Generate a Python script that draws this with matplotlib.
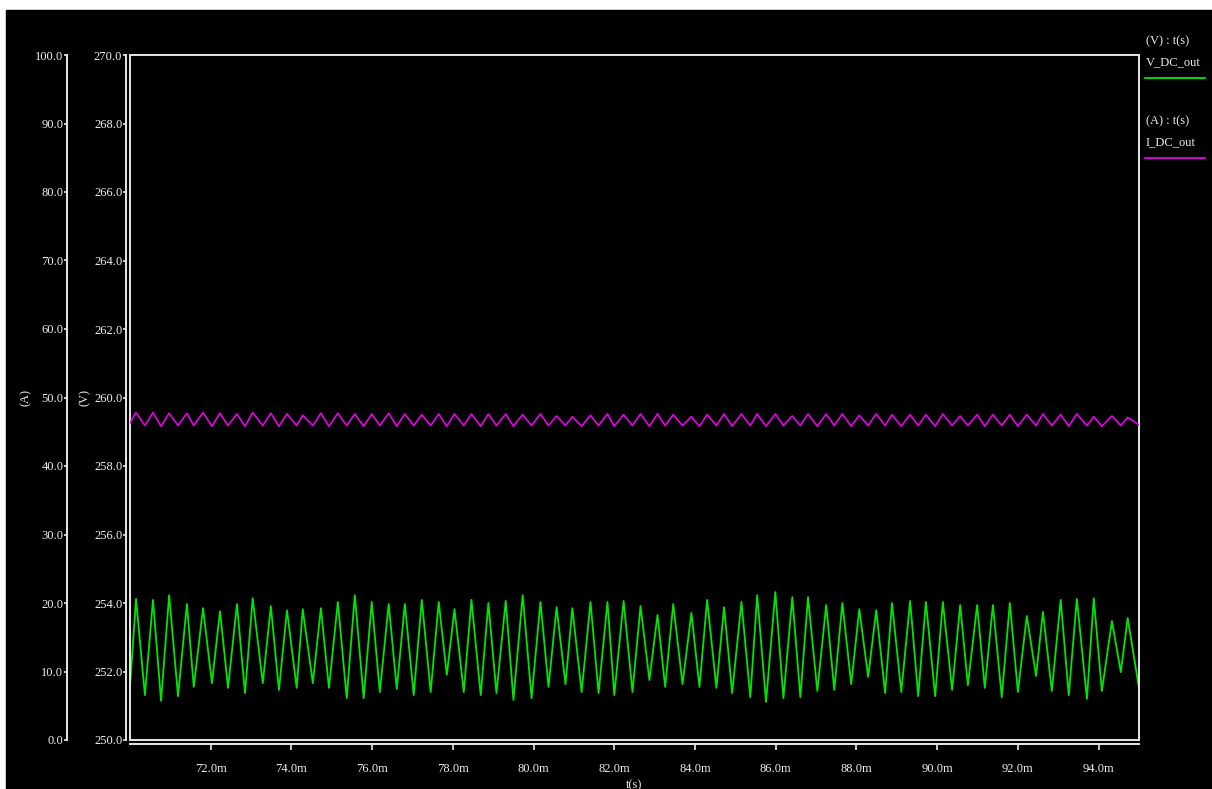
import matplotlib.pyplot as plt
from matplotlib.patches import Rectangle
from matplotlib.lines import Line2D
from matplotlib.ticker import FuncFormatter

# --- dados (tempo em ms) ---
t_ms = [
    70.00, 70.15, 70.37, 70.57, 70.77, 70.97, 71.19, 71.41, 71.58, 71.81,
    72.03, 72.23, 72.43, 72.65, 72.85, 73.04, 73.29, 73.49, 73.69, 73.89,
    74.13, 74.28, 74.53, 74.73, 74.93, 75.15, 75.37, 75.57, 75.79, 75.99,
    76.19, 76.41, 76.61, 76.81, 77.03, 77.23, 77.45, 77.65, 77.85, 78.04,
    78.27, 78.46, 78.69, 78.88, 79.08, 79.31, 79.50, 79.73, 79.95, 80.17,
    80.37, 80.57, 80.79, 80.96, 81.19, 81.41, 81.61, 81.83, 82.00, 82.23,
    82.45, 82.65, 82.87, 83.07, 83.26, 83.46, 83.69, 83.91, 84.11, 84.30,
    84.53, 84.72, 84.92, 85.15, 85.37, 85.54, 85.76, 85.99, 86.19, 86.41,
    86.61, 86.80, 87.03, 87.25, 87.45, 87.65, 87.87, 88.07, 88.29, 88.49,
    88.71, 88.88, 89.11, 89.33, 89.53, 89.72, 89.95, 90.14, 90.37, 90.57,
    90.76, 90.99, 91.18, 91.38, 91.60, 91.80, 92.00, 92.22, 92.45, 92.62,
    92.84, 93.06, 93.26, 93.46, 93.71, 93.88, 94.08, 94.33, 94.55, 94.72,
    95.00,
]

v_dc_out = [
    251.55, 254.12, 251.31, 254.09, 251.14, 254.23, 251.28, 253.97, 251.55, 253.85,
    251.66, 253.76, 251.52, 253.97, 251.37, 254.14, 251.66, 253.91, 251.46, 253.79,
    251.52, 253.82, 251.66, 253.85, 251.52, 254.03, 251.22, 254.23, 251.22, 254.03,
    251.40, 253.97, 251.49, 253.97, 251.31, 254.09, 251.40, 254.03, 251.90, 253.82,
    251.40, 254.09, 251.31, 254.00, 251.37, 254.06, 251.17, 254.23, 251.22, 254.03,
    251.55, 253.88, 251.63, 253.85, 251.40, 254.03, 251.37, 254.03, 251.31, 254.06,
    251.40, 253.91, 251.75, 253.65, 251.55, 253.97, 251.63, 253.71, 251.55, 254.09,
    251.52, 253.88, 251.37, 254.03, 251.25, 254.23, 251.11, 254.32, 251.22, 254.17,
    251.25, 254.17, 251.43, 253.94, 251.46, 254.00, 251.63, 253.82, 251.84, 253.79,
    251.37, 254.00, 251.40, 254.06, 251.28, 254.03, 251.28, 254.03, 251.46, 253.94,
    251.60, 253.94, 251.52, 253.94, 251.25, 254.00, 251.40, 253.62, 251.87, 253.74,
    251.43, 254.09, 251.31, 254.12, 251.20, 254.14, 251.43, 253.47, 251.98, 253.56,
    251.52,
]

i_dc_out = [
    46.3,
    47.8, 45.9, 47.8, 45.8, 47.7, 45.9, 47.7, 45.9, 47.8, 45.8,
    47.7, 45.9, 47.6, 45.8, 47.8, 45.9, 47.7, 45.8, 47.6, 45.9,
    47.4, 45.9, 47.7, 45.8, 47.7, 45.9, 47.6, 45.8, 47.6, 45.9,
    47.7, 45.8, 47.6, 45.9, 47.5, 45.9, 47.6, 45.8, 47.6, 45.9,
    47.6, 45.8, 47.6, 45.9, 47.6, 45.8, 47.5, 45.9, 47.6, 45.9,
    47.3, 45.9, 47.2, 45.8, 47.4, 45.9, 47.6, 45.8, 47.5, 45.9,
    47.6, 45.8, 47.6, 45.9, 47.5, 45.9, 47.2, 45.8, 47.5, 45.9,
    47.6, 45.8, 47.6, 45.9, 47.6, 45.8, 47.6, 45.9, 47.3, 45.9,
    47.6, 45.8, 47.6, 45.9, 47.6, 45.8, 47.4, 45.9, 47.6, 45.9,
    47.5, 45.8, 47.5, 45.9, 47.5, 45.8, 47.6, 45.9, 47.3, 45.9,
    47.5, 45.8, 47.5, 45.9, 47.5, 45.8, 47.5, 45.9, 47.6, 45.9,
    47.5, 45.8, 47.6, 45.9, 47.2, 45.8, 47.3, 45.9,
    47.1, 46.0,
]

x_ticks = [72, 74, 76, 78, 80, 82, 84, 86, 88, 90, 92, 94]
v_ticks = [250, 252, 254, 256, 258, 260, 262, 264, 266, 268, 270]
a_ticks = [0, 10, 20, 30, 40, 50, 60, 70, 80, 90, 100]

# --- estilo ---
W, H = 1212, 789
FONTE = 'Liberation Serif'
COR_TXT = '#eeeeee'
COR_EIXO = '#e8e8e8'
VERDE = '#00e600'
MAGENTA = '#e600e6'
plt.rcParams['font.family'] = FONTE
plt.rcParams['font.size'] = 9

fig = plt.figure(figsize=(W / 100, H / 100), dpi=100, facecolor='white')
fig.add_artist(Rectangle((6 / W, 0), 1 - 6 / W, (H - 10) / H,
                         transform=fig.transFigure, color='black', zorder=-10))

# posição da área de plotagem (pixels)
x0, x1, y0, y1 = 130, 1139, 55, 740
pos = [x0 / W, 1 - y1 / H, (x1 - x0) / W, (y1 - y0) / H]
larg_px, alt_px = x1 - x0, y1 - y0

# eixo da tensão (V)
ax = fig.add_axes(pos)
ax.set_facecolor('none')
ax.plot(t_ms, v_dc_out, color=VERDE, lw=1.3)
ax.set_xlim(70, 95)
ax.set_ylim(250, 270)
for s in ['top', 'right']:
    ax.spines[s].set_visible(False)
ax.spines['left'].set_position(('axes', -4 / larg_px))
ax.spines['bottom'].set_position(('axes', -4 / alt_px))
for s in ['left', 'bottom']:
    ax.spines[s].set_color(COR_EIXO)
    ax.spines[s].set_linewidth(1.4)
ax.add_patch(Rectangle((0, 0), 1, 1, transform=ax.transAxes, fill=False,
                       ec=COR_EIXO, lw=1.4, clip_on=False, zorder=5))

ax.set_xticks(x_ticks)
ax.xaxis.set_major_formatter(FuncFormatter(lambda v, p: f'{v:.1f}m'))
ax.tick_params(axis='x', colors=COR_EIXO, labelcolor=COR_TXT, length=4.5,
               width=1.2, pad=9, labelsize=9)
ax.set_xlabel('t(s)', color=COR_TXT, fontsize=9, labelpad=3)

ax.set_yticks(v_ticks)
ax.yaxis.set_major_formatter(FuncFormatter(lambda v, p: f'{v:.1f}'))
ax.tick_params(axis='y', colors=COR_EIXO, labelcolor=COR_TXT, length=2.2,
               width=1.2, pad=0.5, labelsize=9)
ax.set_ylabel('(V)', color=COR_TXT, fontsize=9, labelpad=2)

# eixo da corrente (A)
ax2 = fig.add_axes(pos, sharex=ax)
ax2.set_facecolor('none')
ax2.plot(t_ms, i_dc_out, color=MAGENTA, lw=1.2)
ax2.set_ylim(0, 100)
for s in ['top', 'right', 'bottom']:
    ax2.spines[s].set_visible(False)
ax2.spines['left'].set_position(('axes', -63 / larg_px))
ax2.spines['left'].set_color(COR_EIXO)
ax2.spines['left'].set_linewidth(1.4)
ax2.xaxis.set_visible(False)
ax2.set_yticks(a_ticks)
ax2.yaxis.set_major_formatter(FuncFormatter(lambda v, p: f'{v:.1f}'))
ax2.tick_params(axis='y', colors=COR_EIXO, labelcolor=COR_TXT, length=2.2,
                width=1.2, pad=0.5, labelsize=9)
ax2.set_ylabel('(A)', color=COR_TXT, fontsize=9, labelpad=2)

# legenda à direita
def legenda(y_titulo, titulo, nome, cor):
    fig.text(1146 / W, 1 - y_titulo / H, titulo, color=COR_TXT, fontsize=9,
             va='center', ha='left')
    fig.text(1146 / W, 1 - (y_titulo + 21) / H, nome, color=COR_TXT, fontsize=9,
             va='center', ha='left')
    yl = 1 - (y_titulo + 37) / H
    fig.add_artist(Line2D([1145 / W, 1205 / W], [yl, yl], color=cor, lw=1.3,
                          transform=fig.transFigure))

legenda(41, '(V) : t(s)', 'V_DC_out', VERDE)
legenda(121, '(A) : t(s)', 'I_DC_out', MAGENTA)

fig.savefig('out.png', dpi=100, facecolor=fig.get_facecolor())
